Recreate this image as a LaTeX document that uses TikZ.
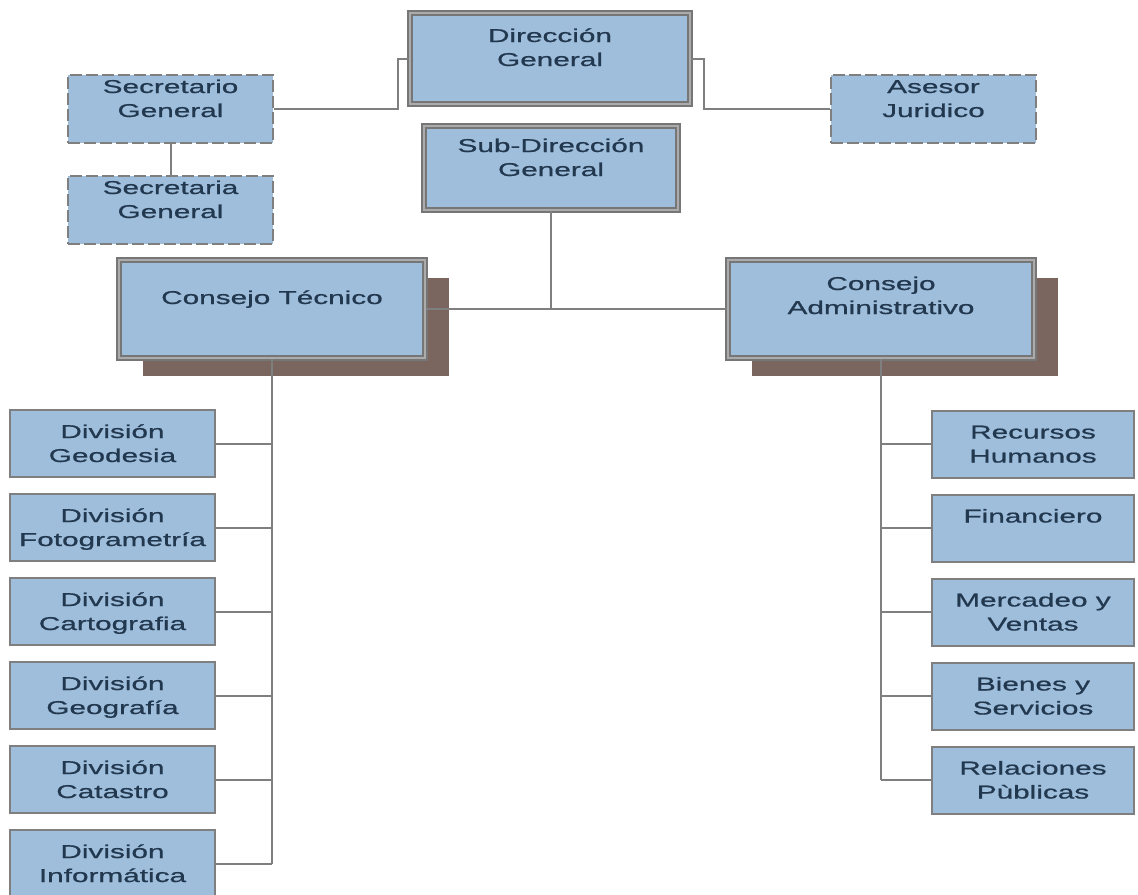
\documentclass[tikz,border=0pt]{standalone}
\usepackage{fontspec}
\setmainfont{Liberation Sans}[FakeStretch=1.6, FakeBold=0.8]
\usepackage{xcolor}
\usepackage{tikz}
\usetikzlibrary{positioning, shadows}
\definecolor{boxblue}{HTML}{9EBEDC}
\definecolor{framegray}{HTML}{767676}
\definecolor{framelight}{HTML}{ABABAB}
\definecolor{linegray}{HTML}{7F7F7F}
\definecolor{textnavy}{HTML}{22384F}
\definecolor{shadebrown}{HTML}{7B665F}

\begin{document}
\begin{tikzpicture}[
        x=0.5pt, y=-0.5pt,
        node distance=7.5pt,
        every node/.style={font=\fontsize{9.3}{12}\selectfont, text=textnavy, align=center, inner sep=0pt},
        head/.style={draw=framegray, line width=1pt, double=framelight, double distance=0.8pt, fill=boxblue, text height=20pt},
        council/.style={head, minimum width=153pt, minimum height=49pt, text depth=15pt, drop shadow={shadow xshift=12pt, shadow yshift=-9pt, fill=shadebrown, draw=none, opacity=1}},
        staff/.style={draw=linegray, line width=1pt, dash pattern=on 6pt off 2pt, fill=boxblue, minimum width=102.5pt, minimum height=34pt, text height=20pt, text depth=12pt},
        division/.style={draw=linegray, line width=1pt, fill=boxblue, minimum width=102.5pt, minimum height=33.5pt, text height=20pt, text depth=1.5pt},
        link/.style={draw=linegray, line width=1pt}
    ]
        \useasboundingbox (0,0) rectangle (1138,894);

        % direccion y staff
        \node[head, minimum width=140pt, minimum height=45.5pt, text depth=12.5pt] (dir) at (550,58.5) {Dirección\\General};
        \node[head, minimum width=127pt, minimum height=42pt, text depth=12pt] (subdir) at (551,168) {Sub-Dirección\\General};
        \node[staff] (secgen) at (170.5,109) {Secretario\\General};
        \node[staff] (secgra) at (170.5,210) {Secretaria\\General};
        \node[staff] (asesor) at (933.5,109) {Asesor\\Juridico};

        % consejos
        \node[council, text height=8pt, text depth=13pt] (tecnico) at (272,309) {Consejo Técnico};
        \node[council] (admin) at (881,309) {Consejo\\Administrativo};

        % divisiones
        \node[division] (geodesia) at (112.5,443.5) {División\\Geodesia};
        \node[division, below=of geodesia] (foto) {División\\Fotogrametría};
        \node[division, below=of foto] (carto) {División\\Cartografia};
        \node[division, below=of carto] (geogra) {División\\Geografía};
        \node[division, below=of geogra] (catastro) {División\\Catastro};
        \node[division, below=of catastro] (inform) {División\\Informática};

        \node[division, minimum width=101pt] (rrhh) at (1033,444) {Recursos\\Humanos};
        \node[division, minimum width=101pt, below=of rrhh, text height=8pt, text depth=13.5pt] (finan) {Financiero};
        \node[division, minimum width=101pt, below=of finan] (merca) {Mercadeo y\\Ventas};
        \node[division, minimum width=101pt, below=of merca] (bienes) {Bienes y\\Servicios};
        \node[division, minimum width=101pt, below=of bienes] (relpub) {Relaciones\\Pùblicas};

        % lineas
        \draw[link] (dir.west) -- ++(-11,0) |- (secgen.east);
        \draw[link] (dir.east) -- ++(13,0) |- (asesor.west);
        \draw[link] (secgen) -- (secgra);
        \draw[link] (subdir) -- (subdir |- tecnico.east);
        \draw[link] (tecnico.east) -- (admin.west);
        \draw[link] (tecnico) -- (tecnico |- inform.east);
        \draw[link] (admin) -- (admin |- relpub.west);
        \foreach \n in {geodesia, foto, carto, geogra, catastro, inform}
            \draw[link] (\n.east) -- (\n.east -| tecnico.south);
        \foreach \n in {rrhh, finan, merca, bienes, relpub}
            \draw[link] (\n.west) -- (\n.west -| admin.south);
    \end{tikzpicture}
\end{document}
